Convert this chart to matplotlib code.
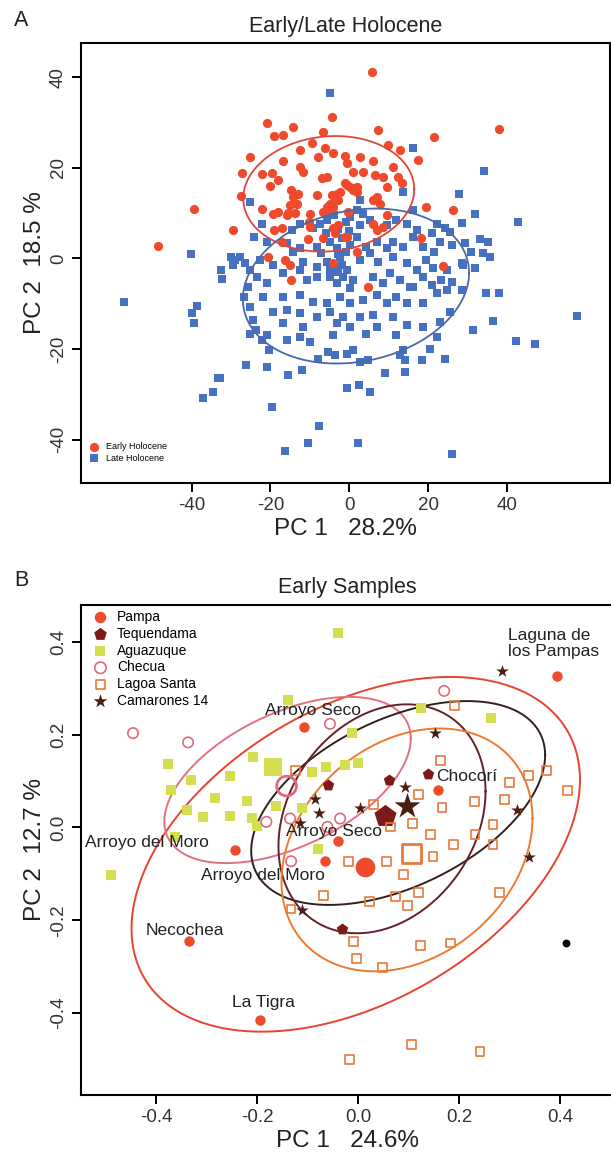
import numpy as np
import matplotlib
matplotlib.use("Agg")
import matplotlib.pyplot as plt

plt.rcParams["font.family"] = ["Liberation Sans", "DejaVu Sans"]
plt.rcParams["axes.unicode_minus"] = False

# ---------------- panel A: early / late holocene PC scores
early_pts = [
    (-48.4, 2.8), (-39.3, 11.0), (-29.5, 6.2),
    (5.7, 41.2), (-4.5, 31.1), (-21.0, 29.8), (-19.1, 27.0), (-16.9, 27.2), (-14.4, 29.1), (-6.6, 28.0), (7.3, 28.3),
    (-25.2, 22.4), (-27.3, 18.9), (-22.2, 18.6), (-19.7, 18.8), (-18.0, 17.3), (-20.1, 16.0), (-16.9, 21.6), (-12.5, 23.9),
    (-12.5, 20.2), (-11.7, 19.1), (-9.6, 25.5), (-7.9, 22.3), (-6.2, 24.3), (-4.1, 23.2), (-7.0, 17.7), (-5.7, 18.0),
    (-1.1, 22.6), (-0.7, 21.0), (1.0, 19.1), (2.7, 22.4), (3.5, 19.1), (6.0, 21.6), (6.4, 18.4), (-1.1, 16.6), (0.1, 15.8),
    (1.8, 15.8), (1.0, 15.1), (-14.9, 15.2), (-13.0, 14.3), (-14.2, 13.6), (-8.3, 14.0), (-13.4, 12.1), (-4.5, 14.0),
    (-3.7, 13.2), (-4.9, 12.1), (-2.8, 12.9), (-5.3, 10.7), (-4.1, 11.4), (-3.2, 14.3), (6.9, 13.6), (7.7, 12.1),
    (-27.5, 13.8), (-22.2, 11.0), (-19.3, 9.9), (-18.0, 10.3), (-19.2, 6.3), (-17.2, 6.6), (-15.5, 10.1), (-13.8, 10.1),
    (-10.2, 8.1), (-10.0, 7.0), (-2.8, 7.4), (-0.7, 4.8), (-6.6, 4.4), (-4.1, 6.6), (-10.4, 4.2), (6.0, 7.7), (6.9, 6.3),
    (8.6, 7.0), (1.8, 1.5), (-17.2, 3.7), (-20.6, 0.4), (-16.4, -0.4), (-15.1, -1.5), (-14.7, -4.8), (-4.1, -1.1), (4.8, -6.3),
    (37.8, 28.6), (21.5, 26.7), (17.4, 21.7), (12.8, 23.9), (9.8, 25.0), (11.1, 20.2), (12.4, 18.0), (13.2, 16.6), (8.6, 18.0),
    (9.4, 15.8), (19.5, 11.4), (26.3, 10.7), (9.4, 9.6), (18.1, 4.4), (23.8, -1.6),
    (-15.1, 11.8), (-2.4, 14.7), (-5.8, 11.4), (-6.6, 10.3), (-0.7, 16.2), (1.8, 14.7), (6.0, 12.9), (-0.3, 10.3),
    (-10.0, 9.9), (-3.7, 5.5), (-1.1, 4.8), (-15.9, 9.6),
]

late_pts = [
    (-57.1, -9.7), (-40.1, 0.9), (-32.6, -2.6), (-38.5, -10.5), (-40.0, -12.1), (-39.3, -14.3), (-33.2, -26.4),
    (-34.5, -29.4), (-37.2, -30.9), (-30.0, 0.4),
    (-4.9, 36.4), (-29.0, -0.4), (-27.7, 0.4), (-26.5, -1.1), (-29.4, -1.5), (-32.4, -4.6), (-25.6, -6.3), (-26.8, -8.5),
    (-25.2, -10.7), (-24.4, -13.6), (-23.6, -15.8), (-22.2, -18.0), (-20.5, -20.2),
    (-7.9, -22.1), (-5.4, -20.6), (-3.7, -21.3), (-0.7, -21.0), (1.0, -20.2), (2.7, -22.8), (4.8, -22.4), (-26.2, -23.5),
    (-21.0, -23.9), (-15.5, -25.8), (-11.9, -24.7), (-32.8, -26.5), (-0.7, -28.7), (2.5, -28.0), (5.2, -29.4), (9.0, -25.4),
    (-19.7, -32.7), (-7.7, -37.0), (-16.3, -42.5), (-10.4, -40.8), (2.2, -40.7), (-15.9, -18.0), (-10.0, -18.4),
    (16.0, 24.3), (34.0, 19.3), (27.7, 14.3), (31.9, 9.8), (42.6, 8.0), (28.4, 7.9), (33.0, 4.2), (35.1, 3.7), (33.9, 1.1),
    (35.6, 0.4), (29.2, 3.3), (30.9, 1.5), (31.8, -2.2), (28.8, -1.5), (25.9, 2.9), (28.4, -1.1), (25.9, -5.2), (34.7, -7.7),
    (37.8, -7.7), (28.4, -7.0), (25.4, -11.8), (31.4, -15.8), (36.4, -13.8), (42.2, -18.2), (47.0, -18.9), (57.7, -12.7),
    (20.4, -19.9), (13.6, -20.2), (14.0, -22.4), (14.0, -25.0), (12.8, -21.3), (18.3, -22.4), (24.2, -22.1), (25.9, -43.2),
    (13.6, 14.7), (2.7, 12.9), (-25.2, 12.5), (-22.2, 7.7),
    (-12.5, 7.7), (-14.6, 6.3), (-9.2, 6.6), (-7.5, 7.7), (-5.8, 8.5), (0.1, 9.2), (1.8, 10.7), (3.5, 9.9), (2.7, 7.4),
    (5.2, 8.5), (9.4, 7.4), (11.9, 8.5), (14.5, 7.7), (16.2, 10.7), (17.0, 6.3), (20.8, 5.5), (22.1, 7.7), (24.2, 6.6), (25.4, 5.9),
    (-24.3, 4.8), (-21.0, 3.7), (-15.9, 3.3), (-12.5, 2.2), (-14.2, 1.5), (-8.3, 2.6), (-7.1, 1.1), (-4.9, 3.7), (-3.2, 2.2),
    (0.1, 2.9), (1.8, 4.8), (4.3, 2.6), (6.9, 3.7), (9.4, 2.2), (11.1, 3.7), (13.6, 2.6), (16.2, 4.8), (18.7, 2.6), (21.3, 1.5), (22.9, 3.7),
    (-22.7, -0.4), (-19.3, -1.5), (-25.2, -2.6), (-11.7, -0.7), (-8.3, -1.8), (-5.8, -0.7), (-2.4, 0.4), (-0.7, -2.6), (2.7, -0.4),
    (5.2, 1.1), (7.3, -0.7), (11.1, 0.4), (14.5, -1.1), (17.0, -2.6), (19.5, -0.4), (21.2, -2.2), (24.6, -2.6),
    (-23.5, -4.0), (-21.0, -5.5), (-16.8, -3.3), (-12.5, -2.6), (-10.8, -4.8), (-8.3, -4.0), (-4.9, -4.0), (-3.2, -5.5), (-1.6, -4.0),
    (1.0, -4.8), (0.1, -6.6), (6.0, -4.0), (8.6, -5.5), (10.3, -3.3), (12.8, -4.8), (15.3, -6.3), (18.7, -4.0), (20.8, -5.9), (23.3, -4.8),
    (-21.8, -8.5), (-16.8, -8.5), (-12.5, -8.1), (-9.2, -9.6), (-5.8, -9.9), (-2.4, -8.5), (0.1, -9.9), (3.5, -9.2), (6.9, -8.1),
    (9.4, -9.9), (11.9, -8.5), (14.5, -9.9), (16.2, -6.3), (18.7, -9.9), (22.1, -7.7), (24.6, -7.0),
    (-19.3, -11.8), (-15.9, -11.4), (-12.5, -12.1), (-8.3, -12.9), (-4.9, -11.8), (-1.6, -12.9), (2.7, -12.9), (6.0, -12.5),
    (11.1, -12.9), (14.5, -14.7), (18.7, -15.1), (22.9, -14.0), (-16.8, -14.3), (-11.7, -15.1), (-3.2, -14.3), (0.1, -15.1), (6.9, -15.1),
    (-25.2, -16.6), (-21.0, -16.9), (-12.5, -17.3), (-4.1, -16.9), (4.3, -16.6), (11.9, -16.9), (22.1, -17.3),
    (-4.0, -2.0), (-2.0, -1.5), (-3.0, 1.0), (-1.0, 1.5), (-5.0, -2.5), (-3.0, -3.0), (-2.0, 4.5), (-6.0, 5.5),
    (0.0, 6.0), (-3.0, 6.5), (-1.0, 8.0), (-4.0, 9.5),
]

# ellipse: centre x, centre y, half range x, half range y, correlation
ell_early = (-5.25, 14.25, 21.65, 12.75, 0.08)
ell_late = (1.65, -6.1, 28.65, 17.1, 0.17)

# ---------------- panel B: early samples
pampa_pts = [(-0.107, 0.217), (-0.040, -0.030), (-0.065, -0.073), (-0.244, -0.049), (-0.195, -0.414),
             (-0.335, -0.245), (0.393, 0.325), (0.158, 0.081)]
pampa_mean = (0.014, -0.086)
teq_pts = [(-0.059, 0.092), (0.060, 0.101), (-0.033, -0.219), (0.138, 0.114)]
teq_mean = (0.053, 0.024)
agua_pts = [(-0.040, 0.418), (-0.139, 0.274), (-0.013, 0.203), (-0.208, 0.151), (-0.254, 0.111), (-0.092, 0.119),
            (-0.063, 0.130), (-0.026, 0.134), (0.0, 0.138), (-0.284, 0.063), (-0.221, 0.057), (-0.254, 0.024),
            (-0.211, 0.020), (-0.201, 0.004), (-0.162, 0.046), (-0.112, 0.041), (-0.079, -0.046), (-0.308, 0.023),
            (-0.376, 0.136), (-0.331, 0.102), (-0.370, 0.080), (-0.339, 0.037), (-0.362, -0.020), (-0.489, -0.103),
            (0.125, 0.258), (0.263, 0.236)]
agua_mean = (-0.168, 0.130)
checua_pts = [(-0.446, 0.203), (-0.337, 0.183), (-0.056, 0.223), (-0.182, 0.012), (-0.135, 0.019), (-0.036, 0.019),
              (-0.061, 0.001), (-0.133, -0.073), (0.170, 0.294)]
checua_mean = (-0.142, 0.089)
lagoa_pts = [(-0.125, 0.122), (0.030, 0.049), (0.064, 0.001), (-0.020, -0.073), (0.056, -0.073), (0.089, -0.102),
             (-0.069, -0.146), (0.023, -0.160), (0.073, -0.149), (0.098, -0.168), (-0.133, -0.176), (-0.010, -0.245),
             (-0.003, -0.283), (0.048, -0.301), (0.105, -0.467), (-0.017, -0.500), (0.190, 0.263), (0.163, 0.144),
             (0.120, 0.071), (0.166, 0.043), (0.230, 0.056), (0.290, 0.060), (0.299, 0.096), (0.337, 0.112),
             (0.372, 0.122), (0.414, 0.079), (0.107, 0.008), (0.143, -0.016), (0.188, -0.037), (0.231, -0.016),
             (0.267, 0.007), (0.267, -0.037), (0.148, -0.062), (0.119, -0.141), (0.279, -0.141), (0.124, -0.254),
             (0.182, -0.249), (0.241, -0.483)]
lagoa_mean = (0.105, -0.056)
cam_pts = [(-0.085, 0.061), (-0.078, 0.031), (-0.116, 0.009), (0.003, 0.042), (0.093, 0.087), (0.151, 0.204),
           (0.285, 0.336), (0.315, 0.038), (0.339, -0.063), (-0.112, -0.179)]
cam_mean = (0.097, 0.046)
other_pts = [(0.411, -0.249)]

ell_pampa = (-0.005, -0.058, 0.444, 0.382, 0.42)
ell_checua = (-0.14, 0.102, 0.244, 0.179, 0.5)
ell_cam = (0.079, 0.0525, 0.291, 0.2195, 0.47)
ell_teq = (0.047, 0.0185, 0.205, 0.2465, 0.24)
ell_lagoa = (0.0965, -0.0485, 0.2485, 0.2615, 0.26)

site_labels = ["Laguna de\nlos Pampas", "Arroyo Seco", "Arroyo Seco", "Arroyo del Moro", "Arroyo del Moro",
               "Necochea", "La Tigra", "Chocorí"]
site_x = [0.296, -0.09, -0.048, -0.541, -0.188, -0.344, -0.188, 0.155]
site_y = [0.396, 0.252, -0.009, -0.0325, -0.103, -0.223, -0.378, 0.110]
site_ha = ["left", "center", "center", "left", "center", "center", "center", "left"]

RED = "#EE4A2B"
BLUE = "#4670C0"


def draw_ellipse(ax, e, color, lw=1.4):
    cx, cy, sx, sy, rho = e
    t = np.linspace(0, 2 * np.pi, 300)
    phi = np.arccos(rho)
    ax.plot(cx + sx * np.cos(t), cy + sy * np.cos(t - phi), color=color, lw=lw, zorder=3)


def style_axes(ax):
    for s in ax.spines.values():
        s.set_linewidth(1.5)
    ax.tick_params(direction="out", length=6.5, width=1.4, labelsize=13.5, labelcolor="#333333",
                   top=False, right=False)
    plt.setp(ax.get_yticklabels(), rotation=90, va="center")


fig = plt.figure(figsize=(6.11, 11.72), dpi=100)

# ---- A
axA = fig.add_axes([81 / 611, 1 - 482.7 / 1172, 529 / 611, 440 / 1172])
e = np.array(early_pts)
l = np.array(late_pts)
axA.scatter(l[:, 0], l[:, 1], marker="s", s=34, color=BLUE, lw=0, zorder=2, label="Late Holocene")
axA.scatter(e[:, 0], e[:, 1], marker="o", s=44, color=RED, lw=0, zorder=2.5, label="Early Holocene")
draw_ellipse(axA, ell_early, "#E0463A", 1.3)
draw_ellipse(axA, ell_late, "#4A68A8", 1.3)
axA.set_xlim(-68, 66)
axA.set_ylim(-49.5, 47.6)
axA.set_xticks([-40, -20, 0, 20, 40])
axA.set_yticks([-40, -20, 0, 20, 40])
style_axes(axA)
axA.set_xlabel("PC 1   28.2%", fontsize=17.5, labelpad=3, color="#222222")
axA.set_ylabel("PC 2  18.5 %", fontsize=17.5, labelpad=3, color="#222222")
axA.set_title("Early/Late Holocene", fontsize=15.5, pad=8, color="#222222")
h, lab = axA.get_legend_handles_labels()
axA.legend(h[::-1], lab[::-1], loc="lower left", bbox_to_anchor=(-0.01, 0.025), fontsize=6.5, frameon=False,
           handletextpad=0.3, labelspacing=0.25, borderaxespad=0.6, markerscale=1.0)
fig.text(21 / 611, 1 - 21 / 1172, "A", fontsize=15.5, ha="center", va="center", color="#222222")

# ---- B
axB = fig.add_axes([81 / 611, 1 - 1095.3 / 1172, 532 / 611, 490.8 / 1172])
axB.spines["right"].set_visible(False)
draw_ellipse(axB, ell_pampa, "#E8432E")
draw_ellipse(axB, ell_checua, "#E27080")
draw_ellipse(axB, ell_cam, "#33201A")
draw_ellipse(axB, ell_teq, "#65202A")
draw_ellipse(axB, ell_lagoa, "#EE7A30")

groups = [
    ("Pampa", pampa_pts, pampa_mean, "o", RED, RED, 56, 200),
    ("Tequendama", teq_pts, teq_mean, "p", "#7B1A18", "#7B1A18", 75, 280),
    ("Aguazuque", agua_pts, agua_mean, "s", "#D5DE50", "#D5DE50", 50, 180),
    ("Checua", checua_pts, checua_mean, "o", "none", "#E06A78", 56, 200),
    ("Lagoa Santa", lagoa_pts, lagoa_mean, "s", "none", "#E8783A", 40, 180),
    ("Camarones 14", cam_pts, cam_mean, "*", "#4B1E0F", "#4B1E0F", 90, 380),
]
for name, pts, mean, mk, fc, ec, s, sbig in groups:
    p = np.array(pts)
    hollow = fc == "none"
    axB.scatter(p[:, 0], p[:, 1], marker=mk, s=s, facecolors=fc, edgecolors=ec,
                linewidths=1.2 if hollow else 0, zorder=4, label=name)
    axB.scatter([mean[0]], [mean[1]], marker=mk, s=sbig, facecolors=fc, edgecolors=ec,
                linewidths=2.0 if hollow else 0, zorder=4)
o = np.array(other_pts)
axB.scatter(o[:, 0], o[:, 1], marker="o", s=32, color="black", lw=0, zorder=4)

for txt, x, y, ha in zip(site_labels, site_x, site_y, site_ha):
    axB.text(x, y, txt, fontsize=12.5, ha=ha, va="center", color="#222222", zorder=5, linespacing=1.15)

axB.set_xlim(-0.549, 0.5044)
axB.set_ylim(-0.577, 0.48)
axB.set_xticks([-0.4, -0.2, 0.0, 0.2, 0.4])
axB.set_xticklabels(["-0.4", "-0.2", "0.0", "0.2", "0.4"])
axB.set_yticks([-0.4, -0.2, 0.0, 0.2, 0.4])
axB.set_yticklabels(["-0.4", "-0.2", "0.0", "0.2", "0.4"])
style_axes(axB)
axB.set_xlabel("PC 1   24.6%", fontsize=17.5, labelpad=3, color="#222222")
axB.set_ylabel("PC 2  12.7 %", fontsize=17.5, labelpad=3, color="#222222")
axB.set_title("Early Samples", fontsize=15.5, pad=8, color="#222222")
axB.legend(loc="upper left", fontsize=10, frameon=False, handletextpad=0.2, labelspacing=0.2,
           borderaxespad=0.2, borderpad=0.2, scatterpoints=1, markerscale=1.1)
fig.text(21 / 611, 1 - 580 / 1172, "B", fontsize=15.5, ha="center", va="center", color="#222222")

fig.savefig("out.png", dpi=100)
